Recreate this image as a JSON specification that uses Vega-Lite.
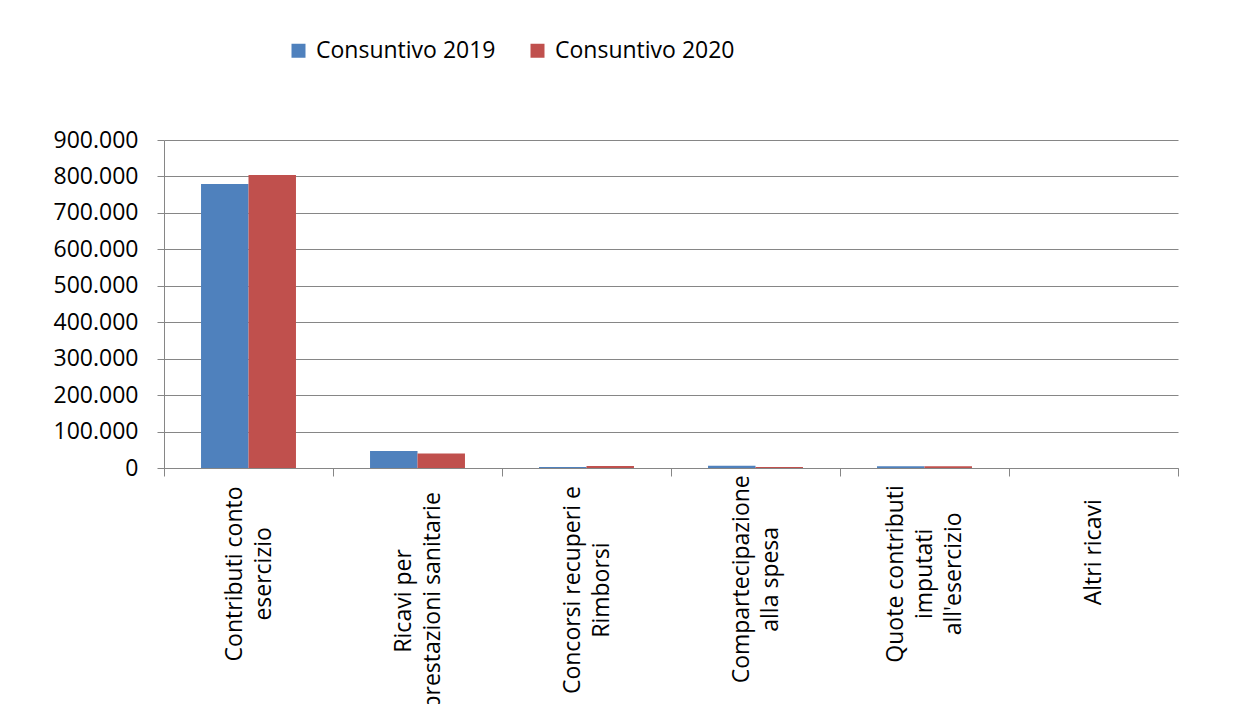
{
  "$schema": "https://vega.github.io/schema/vega-lite/v6.json",
  "autosize": "none",
  "padding": {"left": 164, "top": 140, "right": 57, "bottom": 236},
  "width": 1014,
  "height": 328,
  "background": "white",
  "config": {
    "view": {"stroke": null},
    "font": "Open Sans",
    "locale": {"number": {"decimal": ",", "thousands": ".", "grouping": [3], "currency": ["€", ""]}}
  },
  "data": {
    "values": [
      {"voce": "Contributi conto|esercizio", "serie": "Consuntivo 2019", "valore": 779000},
      {"voce": "Contributi conto|esercizio", "serie": "Consuntivo  2020", "valore": 804000},
      {"voce": "Ricavi per|prestazioni sanitarie", "serie": "Consuntivo 2019", "valore": 46500},
      {"voce": "Ricavi per|prestazioni sanitarie", "serie": "Consuntivo  2020", "valore": 40000},
      {"voce": "Concorsi recuperi e|Rimborsi", "serie": "Consuntivo 2019", "valore": 3000},
      {"voce": "Concorsi recuperi e|Rimborsi", "serie": "Consuntivo  2020", "valore": 5500},
      {"voce": "Compartecipazione|alla spesa", "serie": "Consuntivo 2019", "valore": 6500},
      {"voce": "Compartecipazione|alla spesa", "serie": "Consuntivo  2020", "valore": 3000},
      {"voce": "Quote contributi|imputati|all'esercizio", "serie": "Consuntivo 2019", "valore": 5000},
      {"voce": "Quote contributi|imputati|all'esercizio", "serie": "Consuntivo  2020", "valore": 5000},
      {"voce": "Altri ricavi", "serie": "Consuntivo 2019", "valore": 0},
      {"voce": "Altri ricavi", "serie": "Consuntivo  2020", "valore": 0}
    ]
  },
  "mark": {"type": "bar"},
  "encoding": {
    "x": {
      "field": "voce",
      "type": "nominal",
      "sort": null,
      "title": null,
      "scale": {"paddingInner": 0, "paddingOuter": 0},
      "axis": {
        "labelAngle": -90,
        "labelAlign": "center",
        "labelExpr": "split(datum.label, '|')",
        "labelFont": "Open Sans",
        "labelFontSize": 23,
        "labelLineHeight": 29,
        "labelColor": "black",
        "labelPadding": {"expr": "11 + 5.4 * max(length(split(datum.value, '|')[0]), length(split(datum.value, '|')[1] || ''), length(split(datum.value, '|')[2] || ''))"},
        "labelOffset": {"expr": "-14.5 * (length(split(datum.value, '|')) - 1)"},
        "labelLimit": 400,
        "tickBand": "extent",
        "tickSize": 8,
        "tickColor": "#868686",
        "domainColor": "#868686",
        "grid": false
      }
    },
    "xOffset": {
      "field": "serie",
      "type": "nominal",
      "sort": null,
      "scale": {"paddingInner": 0, "paddingOuter": 0.78}
    },
    "y": {
      "field": "valore",
      "type": "quantitative",
      "title": null,
      "scale": {"domain": [0, 900000], "nice": false},
      "axis": {
        "values": [0, 100000, 200000, 300000, 400000, 500000, 600000, 700000, 800000, 900000],
        "format": ",d",
        "labelFont": "Open Sans",
        "labelFontSize": 23,
        "labelColor": "black",
        "labelPadding": 19,
        "tickSize": 7,
        "tickColor": "#868686",
        "domainColor": "#868686",
        "gridColor": "#868686",
        "gridWidth": 1
      }
    },
    "color": {
      "field": "serie",
      "type": "nominal",
      "sort": null,
      "title": null,
      "scale": {"range": ["#4F81BD", "#C0504D"]},
      "legend": {
        "orient": "none",
        "direction": "horizontal",
        "legendX": 123,
        "legendY": -101,
        "symbolType": "square",
        "symbolSize": 196,
        "symbolStrokeWidth": 0,
        "labelFont": "Open Sans",
        "labelFontSize": 23,
        "labelColor": "black",
        "labelOffset": 6,
        "columnPadding": 30,
        "labelLimit": 300
      }
    }
  }
}
